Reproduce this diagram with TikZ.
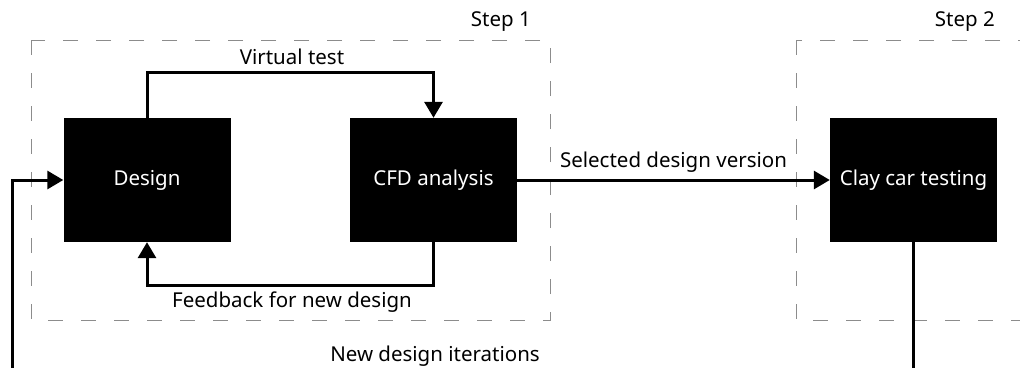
\documentclass[tikz,border=0pt]{standalone}
\usepackage{fontspec}
\setmainfont{Noto Sans}
\usetikzlibrary{arrows.meta}
\begin{document}
\begin{tikzpicture}[x=1pt,y=-1pt,
  blk/.style={fill=black, text=white, minimum width=167pt, minimum height=124pt,
    inner sep=0pt, font=\fontsize{20.5pt}{24pt}\selectfont},
  lbl/.style={font=\fontsize{20.5pt}{24pt}\selectfont, inner sep=0pt},
  conn/.style={line width=3pt, -{Triangle[length=16pt,width=18pt]}},
  stepframe/.style={draw=black!45, line width=1pt, dash pattern=on 15pt off 18pt}]
\useasboundingbox (0,0) rectangle (1020,367);
\clip (0,0) rectangle (1020,367);
\fill[white] (0,0) rectangle (1020,367);

% stage frames
\draw[stepframe] (31,40) rectangle (550,320);
\draw[stepframe] (796,40) rectangle (1080,320);
\node[lbl, anchor=east] (s1) at (531,22) {Step 1};
\node[lbl, anchor=east] (s2) at (995,22) {Step 2};

% process blocks
\node[blk] (design) at (147,180) {Design};
\node[blk] (cfd) at (433.5,180) {CFD analysis};
\node[blk] (clay) at (913.5,180) {Clay car testing};

% loop inside step 1
\coordinate (vt) at (290,72);
\coordinate (fb) at (290,285);
\draw[conn] (design.north) -- (design.north |- vt) -| (cfd.north);
\draw[conn] (cfd.south) -- (cfd.south |- fb) -| (design.south);
\node[lbl] (vtl) at (292,57) {Virtual test};
\node[lbl] (fbl) at (292,302) {Feedback for new design};

% hand-over to step 2
\draw[conn] (cfd.east) -- node[lbl, above=6pt] (sel) {Selected design version} (clay.west);

% return loop
\coordinate (ret) at (12,390);
\draw[conn] (clay.south) |- (ret) |- (design.west);
\node[lbl] (ndi) at (435,356) {New design iterations};
\end{tikzpicture}
\end{document}
